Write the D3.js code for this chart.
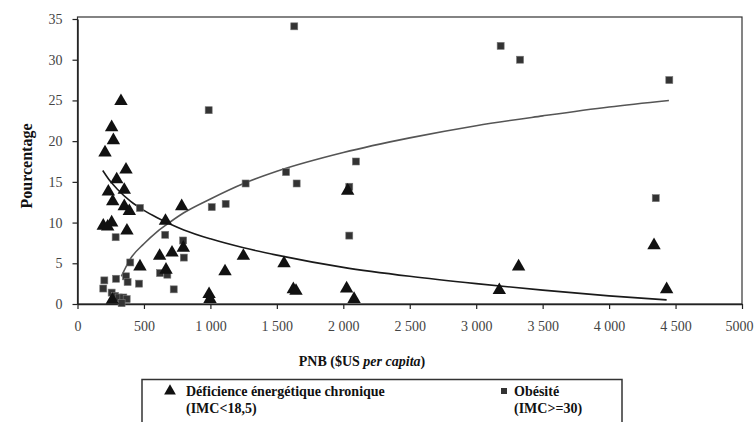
<!DOCTYPE html>
<html><head><meta charset="utf-8">
<script src="https://cdn.jsdelivr.net/npm/d3@7"></script>
<style>
html,body{margin:0;padding:0;background:#fff;}
svg{display:block;}
</style></head>
<body>
<svg id="chart" width="754" height="422"></svg>
<script>
// ---- Data ----
const defX = [327,257,270,207,365,295,232,352,265,352,390,194,257,227,372,784,662,618,711,796,666,470,990,997,1110,1248,1554,1624,1644,2033,2025,2081,3174,3319,4338,4433,262];
const defY = [24.9,21.7,20.1,18.6,16.5,15.3,13.8,14.0,12.6,12.0,11.4,9.6,10.0,9.5,9.0,12.0,10.2,5.9,6.3,6.9,4.2,4.6,1.2,0.6,4.0,5.9,5.0,1.8,1.6,13.9,1.9,0.6,1.7,4.6,7.2,1.8,0.5];

const obeX = [987,470,1010,287,660,795,800,397,621,676,202,194,290,365,377,463,724,257,282,310,345,370,332,1265,1115,1569,1649,1631,2095,2045,2045,3184,3330,4453,4351];
const obeY = [23.8,11.8,11.9,8.2,8.5,7.8,5.7,5.1,3.8,3.6,2.9,1.9,3.1,3.4,2.7,2.5,1.8,1.4,1.0,0.8,0.8,0.6,0.1,14.8,12.3,16.2,14.8,34.1,17.5,14.4,8.4,31.7,30.0,27.5,13.0];

// Trend curves
const defTrendX = [190,250,300,400,500,600,700,800,1000,1250,1500,2000,2500,3000,3500,4000,4433];
const defTrendY = [16.4,15.0,14.1,12.6,11.5,10.6,9.8,9.1,8.0,6.9,6.0,4.5,3.4,2.5,1.7,1.0,0.5];
const obeTrendX = [330,400,500,600,700,800,1000,1250,1500,2000,2500,3000,3500,4000,4450];
const obeTrendY = [3.4,5.6,7.4,8.9,10.1,11.2,12.9,14.8,16.3,18.6,20.4,21.9,23.1,24.2,25.0];

const xTickValues = [0,500,1000,1500,2000,2500,3000,3500,4000,4500,5000];
const xTickLabels = ["0","500","1 000","1 500","2 000","2 500","3 000","3 500","4 000","4 500","5000"];
const yTickValues = [0,5,10,15,20,25,30,35];
const yTickLabels = ["0","5","10","15","20","25","30","35"];

const xTitleMain = "PNB ($US ";
const xTitleItalic = "per capita";
const yTitle = "Pourcentage";
const legendDef = ["Déficience énergétique chronique","(IMC<18,5)"];
const legendObe = ["Obésité","(IMC>=30)"];

// ---- Drawing ----
const FONT = "'Liberation Serif', 'Times New Roman', serif";
const svg = d3.select("#chart");
const x = d3.scaleLinear().domain([0,5000]).range([77.5,742]);
const y = d3.scaleLinear().domain([0,35]).range([304,19]);

// frame (top & right)
svg.append("rect").attr("x",x(0)).attr("y",17).attr("width",x(5000)-x(0)).attr("height",y(0)-17)
  .attr("fill","none").attr("stroke","#333").attr("stroke-width",1.2);

const xAxis = d3.axisBottom(x).tickValues(xTickValues).tickFormat((d,i)=>xTickLabels[i]).tickSize(5).tickSizeOuter(0).tickPadding(12);
const gx = svg.append("g").attr("transform",`translate(0,${y(0)})`).call(xAxis);
const yAxis = d3.axisLeft(y).tickValues(yTickValues).tickFormat((d,i)=>yTickLabels[i]).tickSize(5).tickSizeOuter(0).tickPadding(10);
const gy = svg.append("g").attr("transform",`translate(${x(0)},0)`).call(yAxis);
[gx,gy].forEach(g=>{
  g.select(".domain").attr("stroke","#222").attr("stroke-width",1.5);
  g.selectAll(".tick line").attr("stroke","#222").attr("stroke-width",1.2);
  g.selectAll(".tick text").attr("font-family",FONT).attr("font-size",14).attr("fill","#444");
});
// keep the last label inside the canvas
gx.selectAll(".tick text").filter(d=>d===5000).attr("text-anchor","end").attr("x",11);

// trend lines
const line = d3.line().x(d=>x(d[0])).y(d=>y(d[1])).curve(d3.curveMonotoneX);
svg.append("path").datum(obeTrendX.map((v,i)=>[v,obeTrendY[i]])).attr("d",line)
  .attr("fill","none").attr("stroke","#555").attr("stroke-width",1.6);
svg.append("path").datum(defTrendX.map((v,i)=>[v,defTrendY[i]])).attr("d",line)
  .attr("fill","none").attr("stroke","#1a1a1a").attr("stroke-width",1.6);

// squares
const sq = 7;
svg.append("g").selectAll("rect").data(obeX.map((v,i)=>[v,obeY[i]])).join("rect")
  .attr("x",d=>x(d[0])-sq/2).attr("y",d=>y(d[1])-sq/2).attr("width",sq).attr("height",sq)
  .attr("fill","#333").attr("stroke","#777").attr("stroke-width",0.6);

// triangles
const tri = d3.symbol().type(d3.symbolTriangle).size(78);
svg.append("g").selectAll("path").data(defX.map((v,i)=>[v,defY[i]])).join("path")
  .attr("d",tri).attr("transform",d=>`translate(${x(d[0])},${y(d[1])})`).attr("fill","#111");

// axis titles
const xt = svg.append("text").attr("x",362).attr("y",366).attr("text-anchor","middle")
  .attr("font-family",FONT).attr("font-size",14).attr("font-weight","bold").attr("fill","#111");
xt.append("tspan").text(xTitleMain);
xt.append("tspan").attr("font-style","italic").text(xTitleItalic);
xt.append("tspan").text(")");

svg.append("text").attr("transform",`translate(32,166) rotate(-90)`).attr("text-anchor","middle")
  .attr("font-family",FONT).attr("font-size",16).attr("font-weight","bold").attr("fill","#111").text(yTitle);

// legend
svg.append("rect").attr("x",142).attr("y",379.5).attr("width",480).attr("height",60)
  .attr("fill","none").attr("stroke","#333").attr("stroke-width",1.5);
svg.append("path").attr("d",d3.symbol().type(d3.symbolTriangle).size(60)).attr("transform","translate(170,391)").attr("fill","#111");
legendDef.forEach((t,i)=>svg.append("text").attr("x",186).attr("y",396+i*17)
  .attr("font-family",FONT).attr("font-size",14).attr("font-weight","bold").attr("fill","#111").text(t));
svg.append("rect").attr("x",501).attr("y",388).attr("width",6).attr("height",6).attr("fill","#333");
legendObe.forEach((t,i)=>svg.append("text").attr("x",514).attr("y",396+i*17)
  .attr("font-family",FONT).attr("font-size",14).attr("font-weight","bold").attr("fill","#111").text(t));
</script>
</body></html>
